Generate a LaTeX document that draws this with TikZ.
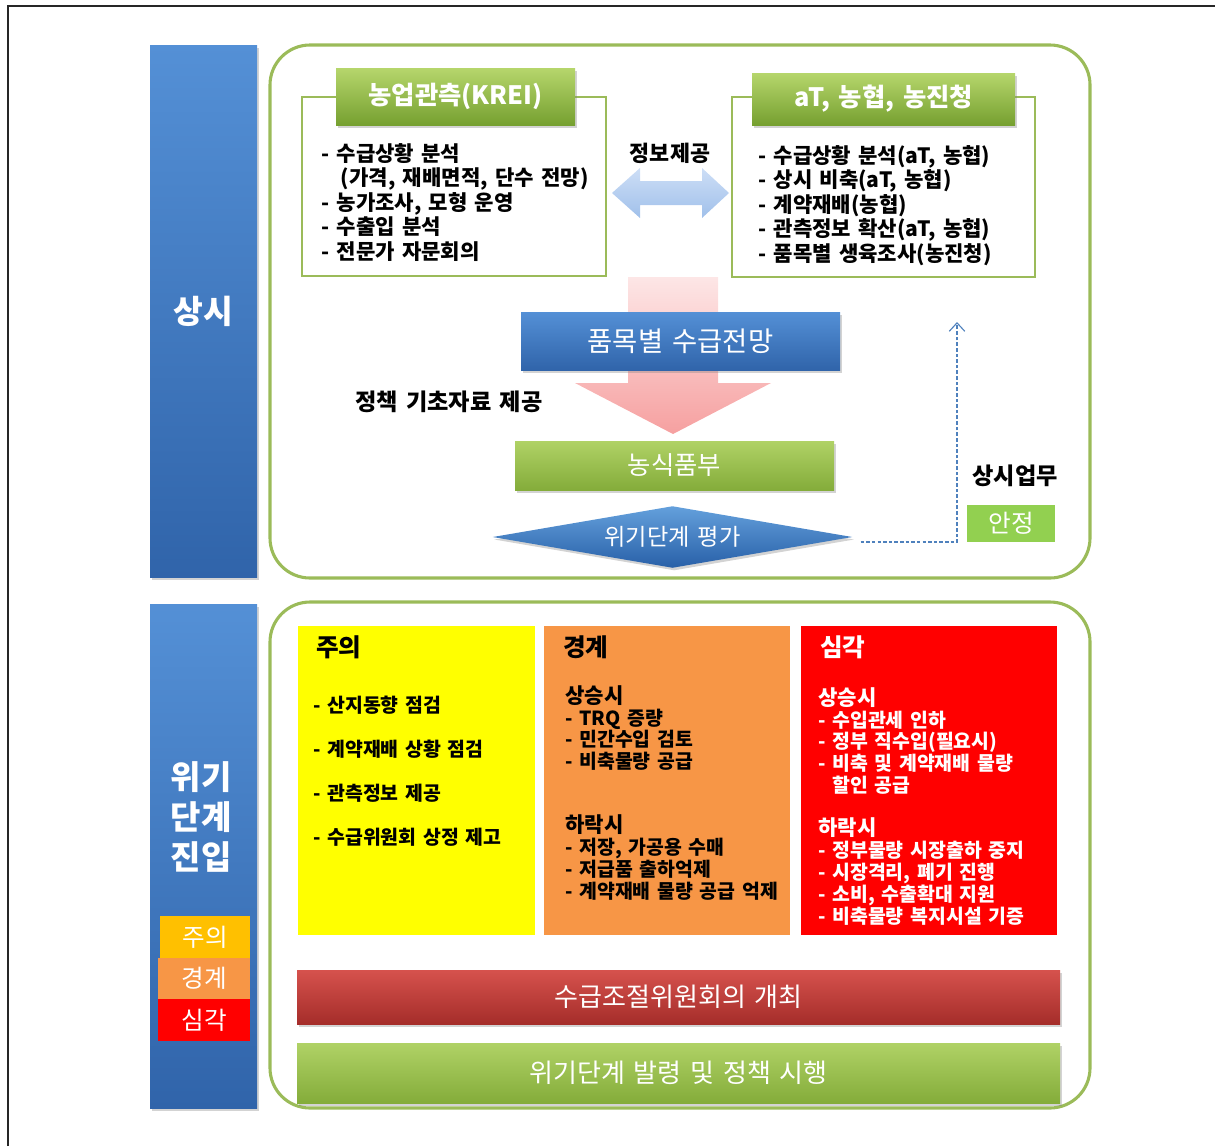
\documentclass[tikz,border=0pt]{standalone}
\usepackage{fontspec}
\setmainfont{Noto Sans CJK KR}[WordSpace=1.5]
\usetikzlibrary{fit,shadows,arrows.meta,calc,shapes.geometric}
\definecolor{frameG}{RGB}{155,187,89}
\definecolor{hdrTop}{RGB}{182,214,108}
\definecolor{hdrBot}{RGB}{118,160,48}
\definecolor{barTop}{RGB}{84,144,214}
\definecolor{barBot}{RGB}{48,100,170}
\definecolor{dashBlue}{RGB}{79,129,189}
\definecolor{okGreen}{RGB}{146,208,80}
\definecolor{warnY}{RGB}{255,255,0}
\definecolor{warnO}{RGB}{247,150,70}
\definecolor{warnR}{RGB}{255,0,0}
\definecolor{warnA}{RGB}{255,192,0}
\definecolor{rbTop}{RGB}{214,82,77}
\definecolor{rbBot}{RGB}{165,45,42}
\definecolor{gbTop}{RGB}{176,210,102}
\definecolor{gbBot}{RGB}{132,172,58}
\newcommand\setfs[2]{\fontsize{#1}{#2}\selectfont}
\tikzset{
  boxfit/.style={inner sep=0pt, outer sep=0pt},
  shadowed/.style={drop shadow={opacity=0.35, shadow xshift=1.2pt, shadow yshift=-1.8pt}},
  sidebar/.style={boxfit, shadowed, top color=barTop, bottom color=barBot},
  frame/.style={boxfit, draw=frameG, line width=2.2pt, rounded corners=1cm},
  listbox/.style={boxfit, draw=frameG, line width=1.6pt, fill=white},
  greenhdr/.style={boxfit, shadowed, top color=hdrTop, bottom color=hdrBot},
  wlabel/.style={inner sep=0pt, text=white},
  hdrtext/.style={wlabel, font=\bfseries\setfs{18}{21}},
  bodytext/.style={inner sep=0pt, anchor=north west, align=left, font=\bfseries\setfs{15}{17.4}},
  bluebox/.style={boxfit, shadowed, top color=barTop, bottom color=barBot},
  greenbox/.style={boxfit, shadowed, top color=gbTop, bottom color=gbBot},
  redbar/.style={boxfit, shadowed, top color=rbTop, bottom color=rbBot},
  plainlabel/.style={inner sep=0pt, font=\bfseries\setfs{16.5}{19}},
  levelbox/.style={boxfit},
  leveltitle/.style={inner sep=0pt, anchor=west, font=\bfseries\setfs{17.5}{20}},
  leveltext/.style={inner sep=0pt, anchor=north west, align=left, font=\bfseries\setfs{13.8}{15.6}},
  smallbox/.style={boxfit},
  smalltext/.style={wlabel, font=\setfs{17.5}{19}}
}
\begin{document}
\begin{tikzpicture}[x=0.025cm,y=-0.025cm]
\path[use as bounding box] (0,0) rectangle (1215,1146);
\draw[line width=1.4pt, black!85] (8,1146) -- (8,6) -- (1215,6);

% side bars
\node[sidebar, fit={(150,45)(257,577)}] (bar1) {};
\node[wlabel, font=\bfseries\setfs{23}{26}] (bar1t) at (bar1.center) {상시};
\node[sidebar, fit={(150,604)(257,1108)}] (bar2) {};
\node[wlabel, align=center, font=\bfseries\setfs{23.5}{28.4}] (bar2t) at (201,817) {위기\\단계\\진입};
\node[smallbox, fill=warnA, fit={(160,916)(250,958)}] (sA) {};
\node[smalltext] (sAt) at (sA.center) {주의};
\node[smallbox, fill=warnO, fit={(158,958)(250,999)}] (sO) {};
\node[smalltext] (sOt) at (sO.center) {경계};
\node[smallbox, fill=warnR, fit={(158,999)(250,1041)}] (sR) {};
\node[smalltext] (sRt) at (sR.center) {심각};

% frames
\node[frame, fit={(270,45)(1090,578)}] (topframe) {};
\node[frame, fit={(270,602)(1090,1108)}] (botframe) {};

% top list boxes
\node[listbox, fit={(302,97)(606,276)}] (kreibox) {};
\node[greenhdr, fit={(336,68)(575,125)}] (kreihdr) {};
\node[hdrtext] (kreihdrt) at (kreihdr.center) {농업관측(KREI)};
\node[bodytext] (kreitxt) at (321,143) {- 수급상황 분석\\\hspace*{14pt}(가격, 재배면적, 단수 전망)\\- 농가조사, 모형 운영\\- 수출입 분석\\- 전문가 자문회의};

\node[listbox, fit={(732,97)(1035,277)}] (atbox) {};
\node[greenhdr, fit={(752,73)(1015,125)}] (athdr) {};
\node[hdrtext] (athdrt) at (athdr.center) {aT, 농협, 농진청};
\node[bodytext] (attxt) at (758,145) {- 수급상황 분석(aT, 농협)\\- 상시 비축(aT, 농협)\\- 계약재배(농협)\\- 관측정보 확산(aT, 농협)\\- 품목별 생육조사(농진청)};

% info double arrow
\node[plainlabel, font=\bfseries\setfs{15.5}{18}] (info) at (670,153) {정보제공};
\path[top color={rgb,255:red,205;green,222;blue,246}, bottom color={rgb,255:red,160;green,192;blue,234}]
  (612,193) -- (640,168) -- (640,181) -- (702,181) -- (702,168) -- (729,193) -- (702,218) -- (702,205) -- (640,205) -- (640,218) -- cycle;

% pink down arrow
\path[top color={rgb,255:red,253;green,230;blue,230}, bottom color={rgb,255:red,246;green,160;blue,160}]
  (628,277) -- (718,277) -- (718,383) -- (771,383) -- (673,434) -- (575,383) -- (628,383) -- cycle;

\node[bluebox, fit={(521,312)(840,370)}] (outlook) {};
\node[wlabel, font=\setfs{19.5}{22}] (outlookt) at (outlook.center) {품목별 수급전망};
\node[plainlabel] (policy) at (449,402) {정책 기초자료 제공};
\node[greenbox, fit={(515,441)(834,490)}] (mafra) {};
\node[wlabel, font=\setfs{18}{21}] (mafrat) at (mafra.center) {농식품부};
\node[diamond, aspect=6, inner sep=0pt, shadowed, top color={rgb,255:red,100;green,160;blue,220}, bottom color={rgb,255:red,40;green,96;blue,168},
  minimum width=255.8pt, minimum height=43.9pt] (eval) at (672.5,537) {};
\node[wlabel, font=\setfs{16.5}{19}] (evalt) at (eval.center) {위기단계 평가};

% dashed feedback
\coordinate (dashend) at (957,322);
\draw[dashed, dash pattern=on 2.5pt off 1.5pt, dashBlue, line width=0.8pt, -{Straight Barb[length=6pt,width=11pt]}]
  ($(eval.east)+(8,5)$) -| (dashend);
\node[plainlabel] (routine) at (1015,476) {상시업무};
\node[boxfit, fill=okGreen, fit={(967,505)(1055,542)}] (stable) {};
\node[wlabel, font=\setfs{17.5}{20}] (stablet) at (stable.center) {안정};

% level boxes
\node[levelbox, fill=warnY, fit={(298,626)(535,935)}] (yb) {};
\node[levelbox, fill=warnO, fit={(544,626)(790,935)}] (ob) {};
\node[levelbox, fill=warnR, fit={(801,626)(1057,935)}] (rb) {};

\node[leveltitle] (yt) at (316,647) {주의};
\node[leveltitle] (ot) at (563,647) {경계};
\node[leveltitle, text=white] (rt) at (820,647) {심각};

\node[leveltext, font=\bfseries\setfs{13.8}{31.2}] (ytx) at (313,696) {- 산지동향 점검\\- 계약재배 상황 점검\\- 관측정보 제공\\- 수급위원회 상정 제고};

\node[leveltext] (otx) at (565,685) {{\setfs{15}{15.6}상승시}\\- TRQ 증량\\- 민간수입 검토\\- 비축물량 공급\\[29.8pt]{\setfs{15}{15.6}하락시}\\- 저장, 가공용 수매\\- 저급품 출하억제\\- 계약재배 물량 공급 억제};

\node[leveltext, text=white] (rtx) at (818,687) {{\setfs{15}{15.6}상승시}\\- 수입관세 인하\\- 정부 직수입(필요시)\\- 비축 및 계약재배 물량\\\hspace*{10pt}할인 공급\\[14.9pt]{\setfs{15}{15.6}하락시}\\- 정부물량 시장출하 중지\\- 시장격리, 폐기 진행\\- 소비, 수출확대 지원\\- 비축물량 복지시설 기증};

% bottom bars
\node[redbar, fit={(297,970)(1060,1024)}] (committee) {};
\node[wlabel, font=\setfs{18.5}{21}] (committeet) at (committee.center) {수급조절위원회의 개최};
\node[greenbox, fit={(297,1043)(1060,1103)}] (action) {};
\node[wlabel, font=\setfs{18.5}{21}] (actiont) at (action.center) {위기단계 발령 및 정책 시행};
\end{tikzpicture}
\end{document}
